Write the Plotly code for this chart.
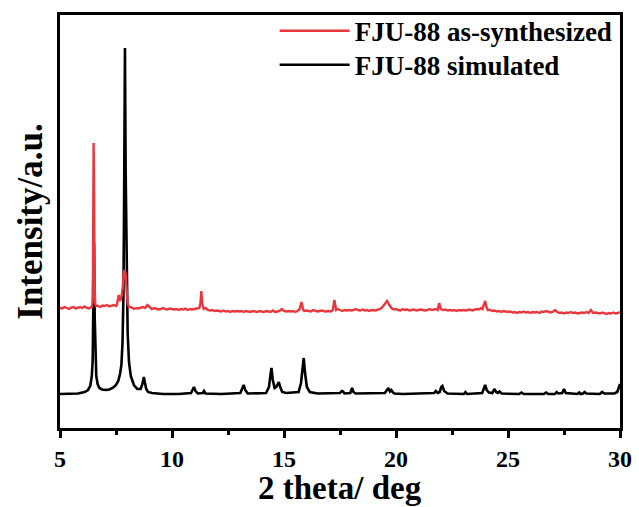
import numpy as np
import plotly.graph_objects as go

# ---------------- data (intensity in arbitrary units) ----------------
# Simulated pattern (black): explicit points
sim_x = [5.0, 5.8, 6.1, 6.25, 6.35, 6.42, 6.46, 6.49, 6.52, 6.55, 6.58, 6.62, 6.68, 6.76, 6.88, 7.05, 7.2,
         7.35, 7.5, 7.6, 7.68, 7.74, 7.79, 7.83, 7.86, 7.88, 7.90, 7.93, 7.97, 8.02, 8.08, 8.16, 8.3, 8.45,
         8.6, 8.68, 8.74, 8.79, 8.85, 8.93, 9.1, 9.6, 10.3, 10.85, 10.93, 10.98, 11.05, 11.15, 11.38, 11.43,
         11.5, 12.2, 13.05, 13.14, 13.2, 13.27, 13.38, 14.2, 14.33, 14.39, 14.44, 14.5, 14.58, 14.65, 14.72,
         14.77, 14.83, 14.92, 15.1, 15.65, 15.76, 15.83, 15.88, 15.94, 16.02, 16.15, 16.5, 17.5, 17.58, 17.64,
         17.7, 17.96, 18.04, 18.1, 18.2, 19.5, 19.6, 19.66, 19.73, 19.79, 19.85, 19.93, 20.3, 21.7, 21.78,
         21.86, 21.95, 22.02, 22.07, 22.15, 22.3, 23.03, 23.1, 23.17, 23.85, 23.93, 23.98, 24.05, 24.15, 24.3,
         24.39, 24.47, 24.55, 24.62, 24.72, 25.5, 25.6, 25.7, 26.6, 26.7, 26.8, 27.1, 27.17, 27.25, 27.42,
         27.5, 27.58, 28.1, 28.18, 28.25, 28.35, 28.42, 28.5, 29.1, 29.2, 29.3, 29.75, 29.88, 29.95, 30.0]
sim_y = [34, 34.5, 36, 38, 42, 52, 68, 110, 185, 110, 68, 52, 44, 40, 38.5, 38, 38.5,
         40, 43, 47, 54, 63, 85, 130, 220, 330, 380, 260, 150, 95, 66, 52, 43, 39,
         39, 44, 51, 45, 39, 36, 35, 34, 34, 35, 39, 41, 37, 34.5, 35, 37,
         34.5, 34, 35, 40, 43, 38, 34.5, 35, 41, 52, 60, 48, 40, 41, 44,
         46, 41, 36, 35, 36, 45, 62, 70, 55, 41, 36, 34.5, 35, 37, 36.5,
         34.5, 35, 40, 36, 34.5, 35, 39, 40, 36.5, 38, 36, 34.5, 34, 35, 37,
         35, 36, 41, 42, 37, 34.5, 34, 36, 34, 35, 41, 43, 38, 35.5, 35,
         39, 36, 35, 36.5, 34.5, 34, 35.5, 34, 34, 35.5, 34, 34, 36, 34.5, 35,
         39, 35, 34, 35.5, 34, 34.5, 36, 34.5, 34, 36, 34.5, 34.5, 36, 41, 44]

# As-synthesized pattern (red): background read every 0.1 deg
syn_bg_x = np.round(np.arange(5.0, 30.001, 0.1), 2)
syn_bg_y = [
    120, 119.5, 121, 120, 119, 120.5, 121, 119.5, 120, 121,
    120, 121.5, 120, 119.5, 121, 121, 121, 122, 121, 122.5,
    122, 123, 121.5, 122.5, 123, 122, 124, 126, 132, 150,
    128, 121, 120.5, 119, 120, 119.5, 120, 121, 120, 123,
    121, 119, 120, 119.5, 118.5, 119, 120, 119, 118.5, 119.5,
    119, 118.5, 119, 118, 119, 118.5, 119.5, 118, 119, 118.5,
    119, 119.5, 120, 121, 130, 120, 118, 117.5, 118, 117,
    117.5, 117, 116.5, 117.5, 116.5, 117, 116, 117, 116.5, 117,
    116.5, 117, 116, 117, 116.5, 116, 117, 116.5, 116, 117,
    116.5, 116, 117, 116.5, 116, 117.5, 116, 116.5, 117, 119,
    117, 116.5, 117, 116.5, 117, 116, 117, 118, 121, 117,
    117.5, 117, 116.5, 118, 117, 116.5, 117, 117.5, 116.5, 117,
    117, 116.5, 118, 124, 119, 118, 117, 118, 117.5, 118,
    117.5, 118, 119, 118, 117.5, 118.5, 117.5, 118, 117, 118,
    118, 117.5, 118.5, 119, 121, 124, 127, 123, 120, 118.5,
    119, 118, 117.5, 119, 118, 118.5, 117.5, 118, 118.5, 117.5,
    118, 118.5, 118, 117.5, 118, 119, 118, 118.5, 119, 123,
    119, 118, 118.5, 117.5, 118, 117.5, 118, 117, 118, 117.5,
    118, 117.5, 118, 118.5, 117.5, 118, 119, 118.5, 120, 124,
    122, 119, 118, 117, 117.5, 116.5, 117, 116, 117, 116.5,
    116, 116.5, 115.5, 116, 115, 116, 115.5, 116.5, 115.5, 116,
    115, 116, 115.5, 116, 115, 116.5, 116, 117, 116, 115.5,
    116, 118, 116, 115, 115.5, 114.5, 115.5, 115, 116, 115,
    115.5, 114.5, 115, 115.5, 115, 116, 115, 118, 115, 115.5,
    115, 114.5, 115.5, 115, 114, 115, 114.5, 115.5, 114.5, 115,
    116]
# Sharp reflections of the as-synthesized sample (red)
syn_pk_x = [6.42, 6.45, 6.47, 6.49, 6.50, 6.52, 6.54, 6.57, 6.61,
            7.55, 7.62, 7.68, 7.74, 7.8, 7.84, 7.88, 7.93, 7.97, 8.02, 8.08,
            11.22, 11.27, 11.31, 11.35, 11.42,
            15.7, 15.78, 15.86,
            17.18, 17.25, 17.33,
            21.86, 21.93, 22.0,
            23.86, 23.92, 23.98, 24.04, 24.1]
syn_pk_y = [121, 125, 150, 240, 285, 240, 150, 125, 122,
            124, 133, 127, 131, 140, 155, 158, 154, 134, 124, 121,
            120, 125, 137, 124, 119,
            119, 126, 118,
            118, 128, 118,
            118, 125, 119,
            119, 124, 127, 121, 118]

series_names = ["FJU-88 as-synthesized", "FJU-88 simulated"]
x_ticks = [5, 10, 15, 20, 25, 30]
x_title = "2 theta/ deg"
y_title = "Intensity/a.u."

# assemble red trace: background points outside peak windows + peak points
windows = [(6.42, 6.61), (7.55, 8.08), (11.22, 11.42), (15.7, 15.86), (17.18, 17.33),
           (21.86, 22.0), (23.86, 24.1)]
pts = [(x, y) for x, y in zip(syn_bg_x, syn_bg_y)
       if not any(a <= x <= b for a, b in windows)]
pts += list(zip(syn_pk_x, syn_pk_y))
pts.sort()
red_x = [p[0] for p in pts]
red_y = [p[1] for p in pts]

FONT = "Times New Roman, Liberation Serif, serif"
LEG_FONT = dict(family=FONT, size=27, color="black", weight="bold")

fig = go.Figure()
fig.add_trace(go.Scatter(x=sim_x, y=sim_y, mode="lines", name=series_names[1],
                         line=dict(color="#000000", width=2.6), legend="legend2"))
fig.add_trace(go.Scatter(x=red_x, y=red_y, mode="lines", name=series_names[0],
                         line=dict(color="#e8383d", width=2.4), legend="legend"))

fig.add_annotation(text=x_title, xref="paper", yref="paper", x=0.5, y=-0.1912,
                   xanchor="center", yanchor="bottom", showarrow=False, borderpad=0,
                   font=dict(family=FONT, size=33, color="black", weight="bold"))

fig.update_layout(
    width=639, height=507,
    margin=dict(l=60, r=19, t=15, b=79, autoexpand=False),
    paper_bgcolor="white", plot_bgcolor="white",
    font=dict(family=FONT, color="black", size=22, weight="bold"),
    showlegend=True,
    legend=dict(x=0.3833, y=1.02, xanchor="left", yanchor="top",
                bgcolor="rgba(0,0,0,0)", borderwidth=0, itemwidth=70, font=LEG_FONT),
    legend2=dict(x=0.3833, y=0.9378, xanchor="left", yanchor="top",
                 bgcolor="rgba(0,0,0,0)", borderwidth=0, itemwidth=70, font=LEG_FONT),
    xaxis=dict(range=[5, 30], tickvals=x_ticks, ticks="outside", ticklen=7, tickwidth=2.5,
               tickcolor="black", showline=True, linecolor="black", linewidth=3,
               mirror=True, showgrid=False, zeroline=False, automargin=False,
               ticklabelstandoff=0,
               minor=dict(tickvals=[7.5, 12.5, 17.5, 22.5, 27.5], ticks="outside",
                          ticklen=4, tickwidth=2.5, tickcolor="black"),
               tickfont=dict(family=FONT, size=24, color="black", weight="bold")),
    yaxis=dict(range=[0, 413], showticklabels=False, ticks="", showline=True,
               linecolor="black", linewidth=3, mirror=True, showgrid=False, zeroline=False,
               automargin=False,
               title=dict(text=y_title, standoff=4,
                          font=dict(family=FONT, size=35, color="black", weight="bold"))),
)

fig.write_html("out.html")
